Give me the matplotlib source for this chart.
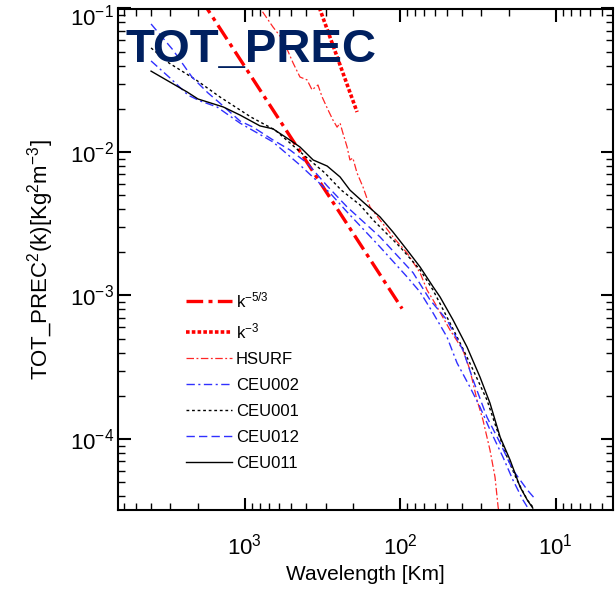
import matplotlib
matplotlib.use('Agg')
import matplotlib.pyplot as plt
import matplotlib.transforms as mtransforms
from matplotlib.ticker import LogLocator, NullFormatter

plt.rcParams['font.family'] = ['Liberation Sans', 'DejaVu Sans']
plt.rcParams['mathtext.fontset'] = 'custom'
plt.rcParams['mathtext.rm'] = 'Liberation Sans'
plt.rcParams['mathtext.it'] = 'Liberation Sans:italic'
plt.rcParams['mathtext.default'] = 'regular'

### data (wavelength in km, spectral power) ###
# reference slopes
k53_lam = [2000, 97]
k53_val = [0.126, 8.1e-4]
k3_lam = [340, 189]
k3_val = [0.1106, 0.019]

# orography spectrum
hsurf_lam = [895, 795, 656, 565, 487, 440, 396, 368, 337, 317, 290, 270, 254, 243, 233, 219, 210, 201,
             189, 173, 156, 134.5, 111, 90.2, 74.3, 67.0, 61.3, 47.7, 39.4, 35.5, 32.0, 29.3, 26.4,
             24.5, 23.4, 22.7]
hsurf_val = [0.1346, 0.1007, 0.0743, 0.0603, 0.0417, 0.0333, 0.0318, 0.0271, 0.0293, 0.0242, 0.0196,
             0.0167, 0.0149, 0.0159, 0.01355, 0.01084, 0.0088, 0.00908, 0.00714, 0.0057, 0.00414,
             0.00336, 0.00256, 0.00198, 0.00144, 0.00109, 9.31e-4, 5.75e-4, 4.17e-4, 3.03e-4, 1.87e-4,
             1.36e-4, 8.38e-5, 5.43e-5, 3.36e-5, 2.72e-5]

# model runs
ceu002_lam = [3990, 3013, 2307, 1932, 1503, 1069, 656, 440, 282, 219, 134.5, 90.2, 74.3, 61.3, 49.9,
              43.0, 35.5, 30.6, 26.4, 21.8, 18.8, 16.2, 15.2]
ceu002_val = [0.0431, 0.0328, 0.0249, 0.0227, 0.0206, 0.0159, 0.01175, 0.00811, 0.00518, 0.00382,
              0.00218, 0.00135, 0.001057, 7.55e-4, 5.14e-4, 3.39e-4, 2.30e-4, 1.67e-4, 1.16e-4,
              7.5e-5, 5.18e-5, 3.76e-5, 3.36e-5]

ceu001_lam = [3990, 3060, 2050, 1440, 908, 637, 510, 402, 304, 239, 181, 149, 116, 100, 74.3, 61.3,
              47.7, 39.9, 33.9, 27.6, 23.8, 20.5, 17.7, 15.2, 14.0]
ceu001_val = [0.0531, 0.0417, 0.0318, 0.0242, 0.0175, 0.01423, 0.01156, 0.00923, 0.00714, 0.00543,
              0.00428, 0.00336, 0.00256, 0.00218, 0.00151, 0.00109, 6.43e-4, 4.38e-4, 3.03e-4,
              1.87e-4, 1.16e-4, 7.5e-5, 5.18e-5, 3.76e-5, 3.36e-5]

ceu012_lam = [3990, 2884, 2178, 1718, 1439, 1069, 881, 656, 510, 396, 294, 219, 134.5, 82.4, 64.1,
              49.9, 39.4, 33.9, 27.6, 22.7, 18.8, 15.2, 13.7]
ceu012_val = [0.078, 0.0514, 0.0333, 0.0258, 0.0219, 0.01644, 0.0149, 0.01213, 0.01033, 0.00838,
              0.0058, 0.00414, 0.00256, 0.00144, 9.31e-4, 6.75e-4, 4.17e-4, 2.58e-4, 1.42e-4,
              9.37e-5, 6.08e-5, 4.42e-5, 3.88e-5]

ceu011_lam = [3990, 2340, 1990, 1370, 1070, 795, 656, 533, 440, 362, 294, 243, 210, 173, 134.5, 111,
              90.2, 74.3, 61.3, 55.3, 45.6, 37.1, 30.6, 26.4, 22.7, 19.6, 16.9, 15.2, 14.0]
ceu011_val = [0.0366, 0.0262, 0.0234, 0.0206, 0.0181, 0.0152, 0.0145, 0.0125, 0.01084, 0.0088,
              0.00798, 0.0067, 0.00543, 0.00449, 0.00353, 0.00277, 0.00208, 0.00158, 0.00115,
              9.77e-4, 6.75e-4, 4.38e-4, 2.70e-4, 1.78e-4, 1.03e-4, 7.14e-5, 4.63e-5, 3.76e-5, 3.30e-5]

y_ticks = [1e-4, 1e-3, 1e-2, 1e-1]

red = '#ff0000'
blue = '#3030ff'

### plot ###
fig = plt.figure(figsize=(6.16, 5.90), dpi=100)
ax = fig.add_axes([118 / 616, 1 - 510 / 590, 495 / 616, 501.5 / 590])

ax.plot(k53_lam, k53_val, color=red, lw=2.4, dashes=(5, 1.6, 1.2, 1.6), label='k$^{-5/3}$')
ax.plot(k3_lam, k3_val, color=red, lw=2.6, dashes=(1.0, 0.6), label='k$^{-3}$')
ax.plot(hsurf_lam, hsurf_val, color=red, lw=0.9, alpha=0.85, dashes=(6, 2, 1.5, 2), label='HSURF')
ax.plot(ceu002_lam, ceu002_val, color=blue, lw=1.0, dashes=(6, 2.5, 1.5, 2.5), label='CEU002')
ax.plot(ceu001_lam, ceu001_val, color='black', lw=1.0, dashes=(2, 2), label='CEU001')
ax.plot(ceu012_lam, ceu012_val, color=blue, lw=1.0, dashes=(6, 3), label='CEU012')
ax.plot(ceu011_lam, ceu011_val, color='black', lw=1.0, label='CEU011')

ax.set_xscale('log')
ax.set_yscale('log')
ax.set_xlim(6510, 4.27)   # wavelength axis runs from large to small
ax.set_ylim(3.2e-5, 1e-1)

# inward ticks on all four sides
ax.xaxis.set_major_locator(LogLocator(base=10))
for axis in (ax.xaxis, ax.yaxis):
    axis.set_minor_locator(LogLocator(base=10, subs=range(2, 10)))
    axis.set_minor_formatter(NullFormatter())
ax.set_yticks(y_ticks)
ax.tick_params(which='major', direction='in', top=True, right=True, length=9, width=1.5, labelsize=16)
ax.tick_params(which='minor', direction='in', top=True, right=True, length=5, width=1)
ax.tick_params(axis='x', which='major', pad=17)
ax.tick_params(axis='y', which='major', pad=3)
for s in ax.spines.values():
    s.set_linewidth(1.5)

# the 10^-1 label sits a little lower so it stays inside the figure
top_lbl = ax.get_yticklabels()[-1]
top_lbl.set_transform(top_lbl.get_transform() + mtransforms.ScaledTranslation(0, -5 / 72, fig.dpi_scale_trans))

ax.set_xlabel('Wavelength [Km]', fontsize=15, labelpad=4)
ax.set_ylabel('TOT_PREC$^2$(k)[Kg$^2$m$^{-3}$]', fontsize=16, labelpad=10)

ax.legend(loc='upper left', bbox_to_anchor=(0.137, 0.438), frameon=False, fontsize=12,
          handlelength=2.8, handletextpad=0.2, labelspacing=0.66, borderpad=0, borderaxespad=0)

# big title over the upper left of the plot
fig.text(125 / 616, 1 - 62 / 590, 'TOT_PREC', fontsize=34, fontweight='bold', color='#002060',
         va='baseline', ha='left')

plt.savefig('out.png', dpi=100)
